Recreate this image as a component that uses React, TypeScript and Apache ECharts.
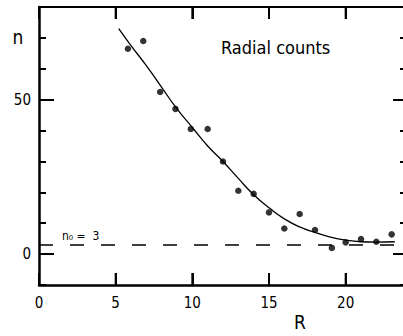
import React, { useEffect, useRef } from "react";
import * as echarts from "echarts";

const rValues = [5.8, 6.8, 7.9, 8.9, 9.9, 11, 12, 13, 14, 15, 16, 17, 18, 19.1, 20, 21, 22, 23];
const nValues = [66.5, 69, 52.5, 47, 40.5, 40.5, 30, 20.5, 19.5, 13.5, 8.3, 13, 7.8, 2, 3.8, 4.9, 4, 6.4];

const curveR = [5.2, 6, 7, 8, 9, 10, 11, 12, 13, 14, 15, 16, 17, 18, 19, 20, 21, 22, 23.2];
const curveN = [73, 67.5, 61, 54, 47, 41, 35, 30, 24.5, 19.2, 15, 11.4, 8.8, 7, 5.5, 4.5, 4, 3.9, 4.0];

const xTickValues = [5, 10, 15, 20];
const xLabelValues = [0, 5, 10, 15, 20];
const yMajorValues = [0, 50];
const n0 = 3;

const X_MIN = 0, X_MAX = 24, Y_MIN = -10, Y_MAX = 80;
const TICK_LEN_Y_UNITS = 3.9;

const FONT = "'DejaVu Sans Condensed', 'DejaVu Sans', sans-serif";

export default function App() {
  const ref = useRef<HTMLDivElement>(null);
  useEffect(() => {
    if (!ref.current) return;
    const chart = echarts.init(ref.current, null, { renderer: "svg" });
    const yBase = { type: "value", min: Y_MIN, max: Y_MAX, interval: 10, splitLine: { show: false } } as any;
    const xBase = { type: "value", min: X_MIN, max: X_MAX, interval: 5, splitLine: { show: false } } as any;
    chart.setOption({
      animation: false,
      backgroundColor: "#fff",
      grid: { left: 39, top: 7, bottom: 51, right: 4, containLabel: false },
      xAxis: [
        {
          ...xBase, position: "bottom",
          axisLine: { show: true, onZero: false, lineStyle: { color: "#000", width: 2.5 } },
          axisTick: { show: true, inside: true, length: 12, lineStyle: { color: "#000", width: 2 } },
          axisLabel: {
            show: true, color: "#000", fontSize: 15, fontFamily: FONT, margin: 10,
            formatter: (v: number) => (xLabelValues.indexOf(v) >= 0 ? String(v) : ""),
          },
        },
        {
          ...xBase, position: "top",
          axisLine: { show: true, onZero: false, lineStyle: { color: "#000", width: 2 } },
          axisTick: { show: true, inside: true, length: 12, lineStyle: { color: "#000", width: 2 } },
          axisLabel: { show: false },
        },
      ],
      yAxis: [
        {
          ...yBase, position: "left",
          axisLine: { show: true, onZero: false, lineStyle: { color: "#000", width: 2.5 } },
          axisTick: { show: true, inside: true, length: 7, lineStyle: { color: "#000", width: 2 } },
          axisLabel: {
            show: true, color: "#000", fontSize: 15, fontFamily: FONT, margin: 8,
            formatter: (v: number) => (yMajorValues.indexOf(v) >= 0 ? String(v) : ""),
          },
        },
        {
          ...yBase, position: "left",
          axisLine: { show: false, onZero: false },
          axisTick: { show: true, inside: true, length: 15, customValues: yMajorValues, lineStyle: { color: "#000", width: 2 } },
          axisLabel: { show: false },
        },
        {
          ...yBase, position: "right",
          axisLine: { show: true, onZero: false, lineStyle: { color: "#000", width: 2 } },
          axisTick: { show: true, inside: true, length: 7, lineStyle: { color: "#000", width: 2 } },
          axisLabel: { show: false },
        },
        {
          ...yBase, position: "right",
          axisLine: { show: false, onZero: false },
          axisTick: { show: true, inside: true, length: 14, customValues: yMajorValues, lineStyle: { color: "#000", width: 2 } },
          axisLabel: { show: false },
        },
      ],
      series: [
        {
          type: "line",
          data: curveR.map((r, i) => [r, curveN[i]]),
          smooth: true,
          showSymbol: false,
          lineStyle: { color: "#000", width: 1.3 },
          markLine: {
            silent: true,
            symbol: "none",
            label: { show: false },
            lineStyle: { color: "#000", width: 1.5, type: [14, 17] },
            data: [{ yAxis: n0 }],
          },
        },
        {
          type: "scatter",
          data: rValues.map((r, i) => [r, nValues[i]]),
          symbol: "circle",
          symbolSize: 6.5,
          itemStyle: { color: "#000" },
        },
        {
          type: "custom",
          silent: true,
          data: xTickValues.map((v) => [v]),
          renderItem: (params: any, api: any) => {
            const v = api.value(0);
            const b0 = api.coord([v, Y_MIN]);
            const b1 = api.coord([v, Y_MIN + TICK_LEN_Y_UNITS]);
            const t0 = api.coord([v, Y_MAX]);
            const t1 = api.coord([v, Y_MAX - TICK_LEN_Y_UNITS]);
            return {
              type: "group",
              children: [
                { type: "line", shape: { x1: b0[0], y1: b0[1], x2: b1[0], y2: b1[1] }, style: { stroke: "#000", lineWidth: 2 } },
                { type: "line", shape: { x1: t0[0], y1: t0[1], x2: t1[0], y2: t1[1] }, style: { stroke: "#000", lineWidth: 2 } },
              ],
            };
          },
        },
      ],
      graphic: [
        { type: "text", x: 18, y: 37, style: { text: "n", font: `19px ${FONT}`, fill: "#000", textAlign: "center", textVerticalAlign: "middle" } },
        { type: "text", x: 221, y: 47, style: { text: "Radial counts", font: `18px ${FONT}`, fill: "#000", textAlign: "left", textVerticalAlign: "middle" } },
        { type: "text", x: 62, y: 236, style: { text: "n\u2080 =  3", font: `12px ${FONT}`, fill: "#000", textAlign: "left", textVerticalAlign: "middle" } },
        { type: "text", x: 300, y: 322, style: { text: "R", font: `19px ${FONT}`, fill: "#000", textAlign: "center", textVerticalAlign: "middle" } },
      ],
    });
    return () => chart.dispose();
  }, []);
  return (
    <div style={{ position: "fixed", left: 0, top: 0, width: 403, height: 336, overflow: "hidden" }}>
      <div ref={ref} style={{ width: 411, height: 336 }} />
    </div>
  );
}
